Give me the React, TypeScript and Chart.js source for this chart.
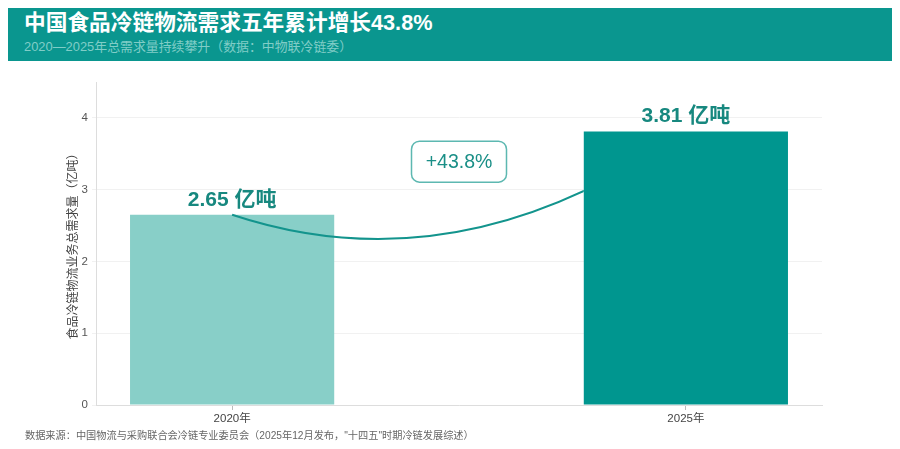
import React, { useEffect, useRef } from "react";
import { Chart, registerables } from "chart.js";

Chart.register(...registerables);

const categories = ["2020年", "2025年"];
const values = [2.65, 3.81];
const barLabels = ["2.65 亿吨", "3.81 亿吨"];
const growthLabel = "+43.8%";
const yTicks = [0, 1, 2, 3, 4];
const titleText = "中国食品冷链物流需求五年累计增长43.8%";
const subtitleText = "2020—2025年总需求量持续攀升（数据：中物联冷链委）";
const yTitle = "食品冷链物流业务总需求量（亿吨）";
const sourceText =
  "数据来源：中国物流与采购联合会冷链专业委员会（2025年12月发布，\"十四五\"时期冷链发展综述）";

const FONT = '"Liberation Sans", "Noto Sans CJK SC", sans-serif';
const LIGHT = "#88cfc8";
const DARK = "#00968f";
const LABEL_COLOR = "#17887f";

const annotationPlugin = {
  id: "growthAnnotations",
  afterDatasetsDraw(chart: any) {
    const ctx = chart.ctx;
    const xs = chart.scales.x;
    const ys = chart.scales.y;
    const meta = chart.getDatasetMeta(0);
    const b0 = meta.data[0];
    const b1 = meta.data[1];
    const area = chart.chartArea;

    // curve
    const p0x = xs.getPixelForValue(0);
    const p0y = ys.getPixelForValue(values[0]);
    const p2x = xs.getPixelForValue(1);
    const p2y = ys.getPixelForValue(values[1]);
    const cx = xs.getPixelForValue(0.5);
    const cy = ys.getPixelForValue(1.6);
    ctx.save();
    ctx.beginPath();
    ctx.rect(area.left, area.top, b1.x - b1.width / 2 - area.left, area.bottom - area.top);
    ctx.clip();
    ctx.beginPath();
    ctx.moveTo(p0x, p0y);
    ctx.quadraticCurveTo(cx, cy, p2x, p2y);
    ctx.strokeStyle = "#13948d";
    ctx.lineWidth = 2;
    ctx.stroke();
    ctx.restore();

    // bar value labels
    ctx.save();
    ctx.font = `bold 21px ${FONT}`;
    ctx.fillStyle = LABEL_COLOR;
    ctx.textAlign = "center";
    ctx.textBaseline = "middle";
    [b0, b1].forEach((b: any, i: number) => {
      ctx.fillText(barLabels[i], b.x, b.y - 15);
    });
    ctx.restore();

    // growth badge
    const bx = xs.getPixelForValue(0.5);
    const by = ys.getPixelForValue(3.39);
    const w = 95;
    const h = 41;
    ctx.save();
    ctx.beginPath();
    if ((ctx as any).roundRect) {
      (ctx as any).roundRect(bx - w / 2, by - h / 2, w, h, 8);
    } else {
      ctx.rect(bx - w / 2, by - h / 2, w, h);
    }
    ctx.fillStyle = "#ffffff";
    ctx.fill();
    ctx.strokeStyle = "#5db8b1";
    ctx.lineWidth = 1.5;
    ctx.stroke();
    ctx.font = `19.5px ${FONT}`;
    ctx.fillStyle = "#1a8f87";
    ctx.textAlign = "center";
    ctx.textBaseline = "middle";
    ctx.fillText(growthLabel, bx, by + 1);
    ctx.restore();
  },
};

function ChartView() {
  const ref = useRef<HTMLCanvasElement | null>(null);
  useEffect(() => {
    if (!ref.current) return;
    const chart = new Chart(ref.current, {
      type: "bar",
      data: {
        datasets: [
          {
            data: values.map((v, i) => ({ x: i, y: v })),
            backgroundColor: [LIGHT, DARK],
            borderWidth: 0,
            categoryPercentage: 0.5,
            barPercentage: 0.9,
          },
        ],
      },
      options: {
        animation: false,
        responsive: true,
        maintainAspectRatio: false,
        layout: { padding: { left: 52, right: 70, top: 21, bottom: 0 } },
        plugins: { legend: { display: false }, tooltip: { enabled: false } },
        scales: {
          x: {
            type: "linear",
            min: -0.3,
            max: 1.3,
            offset: false,
            afterBuildTicks: (s: any) => {
              s.ticks = categories.map((_, i) => ({ value: i }));
            },
            afterFit: (s: any) => {
              s.height = 28;
            },
            ticks: {
              callback: (v: any) => categories[v] ?? "",
              color: "#444",
              font: { size: 11.5, family: FONT },
              padding: 2,
              maxRotation: 0,
            },
            grid: {
              offset: false,
              drawOnChartArea: false,
              drawTicks: true,
              tickLength: 5,
              color: "#bbb",
            },
            border: { color: "#ddd" },
          },
          y: {
            min: 0,
            max: 4.5,
            afterBuildTicks: (s: any) => {
              s.ticks = yTicks.map((v) => ({ value: v }));
            },
            afterFit: (s: any) => {
              s.width = 36;
            },
            ticks: {
              color: "#555",
              font: { size: 11.5, family: FONT },
              padding: 4,
            },
            grid: { color: "#f1f1f1", tickLength: 4 },
            border: { color: "#ddd" },
            title: {
              display: true,
              text: yTitle,
              color: "#444",
              font: { size: 12, family: FONT },
              padding: { top: 6, bottom: 2 },
            },
          },
        },
      },
      plugins: [annotationPlugin],
    } as any);
    return () => chart.destroy();
  }, []);
  return <canvas ref={ref} />;
}

export default function App() {
  return (
    <div style={{ position: "relative", width: 884, height: 433, fontFamily: FONT }}>
      <div
        style={{
          position: "absolute",
          left: 0,
          top: 0,
          width: 884,
          height: 53,
          background: "#0a968f",
        }}
      >
        <div
          style={{
            position: "absolute",
            left: 16,
            top: 2,
            color: "#ffffff",
            fontSize: 21.7,
            fontWeight: 700,
            lineHeight: "26px",
            whiteSpace: "nowrap",
          }}
        >
          {titleText}
        </div>
        <div
          style={{
            position: "absolute",
            left: 16,
            top: 31,
            color: "#80cdc7",
            fontSize: 12.9,
            lineHeight: "16px",
            whiteSpace: "nowrap",
          }}
        >
          {subtitleText}
        </div>
      </div>
      <div style={{ position: "absolute", left: 0, top: 53, width: 884, height: 372 }}>
        <ChartView />
      </div>
      <div
        style={{
          position: "absolute",
          left: 17,
          top: 421,
          color: "#666",
          fontSize: 10.2,
          lineHeight: "14px",
          whiteSpace: "nowrap",
        }}
      >
        {sourceText}
      </div>
    </div>
  );
}
